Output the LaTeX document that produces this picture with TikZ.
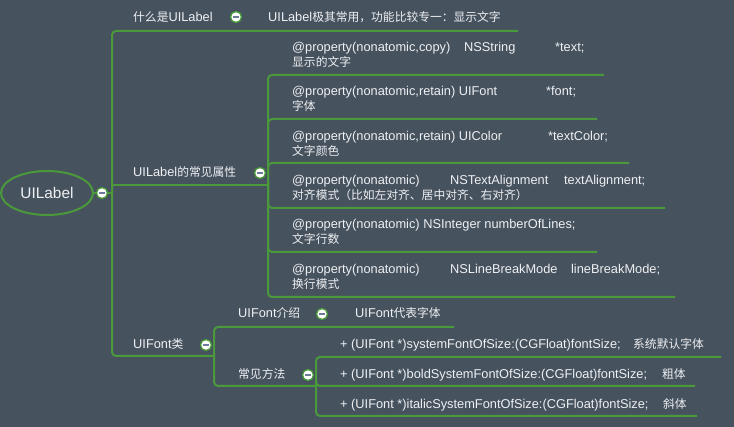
\documentclass[tikz,border=0pt]{standalone}
\usepackage{fontspec}
\usepackage{tikz}
\usepackage{xcolor}
\usetikzlibrary{shapes.geometric}
\setmainfont{Liberation Sans}
\newfontfamily\zhfont{Noto Sans CJK SC}[Scale=0.92]
\newcommand{\zh}[1]{{\zhfont #1}}
\definecolor{mapbg}{HTML}{47525F}
\definecolor{mapgreen}{HTML}{4A9A3C}
\definecolor{maptext}{HTML}{EEF0F2}
\definecolor{mapminus}{HTML}{6B7B99}
\tikzset{
  link/.style={draw=mapgreen,line width=2pt,rounded corners=4pt},
  topic/.style={text=maptext,inner sep=0pt,anchor=west,text height=9.5pt,text depth=2.5pt,
    font=\fontsize{12.8}{15}\selectfont},
  note/.style={topic,align=left,text height=24.5pt},
  collapse/.style={circle,fill=white,draw=mapgreen,line width=1.3pt,minimum size=11pt,inner sep=0pt,
    path picture={\draw[mapminus,line width=1.6pt]
      ([xshift=-2.6pt]path picture bounding box.center)--([xshift=2.6pt]path picture bounding box.center);}}
}
\begin{document}
\begin{tikzpicture}[x=1pt,y=-1pt]
\fill[mapbg](0,0)rectangle(734,427);
\useasboundingbox(0,0)rectangle(734,427);
% central topic
\node[ellipse,draw=mapgreen,line width=2pt,minimum width=92pt,minimum height=44pt,inner sep=0pt,
  text=maptext,font=\fontsize{15.4}{18}\selectfont](root)at(47,193){UILabel};
% topics
\node[topic](what)at(133,18){\zh{什么是}UILabel};
\node[topic](whatleaf)at(268,18){UILabel\zh{极其常用，功能比较专一：显示文字}};
\node[topic](props)at(133,173){UILabel\zh{的常见属性}};
\node[note](p1)at(292,55.5){\makebox[172pt][l]{@property(nonatomic,copy)}\makebox[91pt][l]{NSString}*text;\\\zh{显示的文字}};
\node[note](p2)at(292,99.5){\makebox[254pt][l]{@property(nonatomic,retain) UIFont}*font;\\\zh{字体}};
\node[note](p3)at(292,144.5){\makebox[256pt][l]{@property(nonatomic,retain) UIColor}*textColor;\\\zh{文字颜色}};
\node[note](p4)at(292,188.5){\makebox[158pt][l]{@property(nonatomic)}\makebox[114pt][l]{NSTextAlignment}textAlignment;\\\zh{对齐模式（比如左对齐、居中对齐、右对齐）}};
\node[note](p5)at(292,233){@property(nonatomic) NSInteger numberOfLines;\\\zh{文字行数}};
\node[note](p6)at(292,277.5){\makebox[158pt][l]{@property(nonatomic)}\makebox[121pt][l]{NSLineBreakMode}lineBreakMode;\\\zh{换行模式}};
\node[topic](font)at(133,345){UIFont\zh{类}};
\node[topic](fontintro)at(238,314){UIFont\zh{介绍}};
\node[topic](fontintroleaf)at(355,314){UIFont\zh{代表字体}};
\node[topic](methods)at(238,375){\zh{常见方法}};
\node[topic](m1)at(340,345){\makebox[293pt][l]{+ (UIFont *)systemFontOfSize:(CGFloat)fontSize;}\zh{系统默认字体}};
\node[topic](m2)at(340,375){\makebox[322pt][l]{+ (UIFont *)boldSystemFontOfSize:(CGFloat)fontSize;}\zh{粗体}};
\node[topic](m3)at(340,405){\makebox[323pt][l]{+ (UIFont *)italicSystemFontOfSize:(CGFloat)fontSize;}\zh{斜体}};
% junctions and line ends
\coordinate(hub)at(112,193);
\coordinate(propsj)at(268,185);
\coordinate(fontj)at(214,356);
\coordinate(methj)at(316,386);
\coordinate(e0)at(518,31);
\coordinate(e1)at(604,75);
\coordinate(e2)at(597,119);
\coordinate(e3)at(629,163);
\coordinate(e4)at(665,208);
\coordinate(e5)at(597,252);
\coordinate(e6)at(675,297);
\coordinate(eintro)at(454,327);
\coordinate(em1)at(721,357);
\coordinate(em2)at(695,386);
\coordinate(em3)at(697,416);
% connectors
\draw[link](root)--(hub);
\draw[link](hub)|-(e0);
\draw[link](hub)|-(fontj);
\draw[link](hub|-propsj)--(propsj);
\foreach \e in {e1,e2,e3,e4,e5,e6}
  \draw[link](propsj)|-(\e);
\draw[link](fontj)|-(eintro);
\draw[link](fontj)|-(methj);
\foreach \e in {em1,em2,em3}
  \draw[link](methj)|-(\e);
% collapse buttons
\node[collapse](b0)at(102,193){};
\node[collapse](bwhat)at(236,17){};
\node[collapse](bprops)at(260,173){};
\node[collapse](bfont)at(206,345){};
\node[collapse](bintro)at(322,314){};
\node[collapse](bmethods)at(308,375){};
\end{tikzpicture}
\end{document}
